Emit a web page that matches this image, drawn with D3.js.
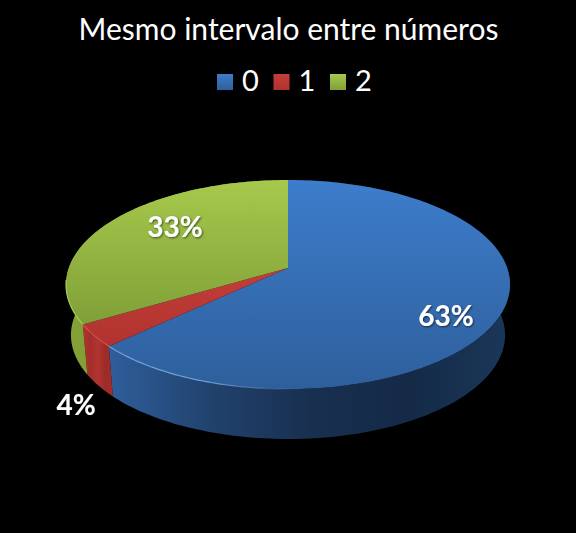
<!DOCTYPE html>
<html>
<head>
<meta charset="utf-8">
<script src="https://cdn.jsdelivr.net/npm/d3@7/dist/d3.min.js"></script>
<style>
  html, body { margin: 0; background: #000; }
  svg { display: block; }
  text { font-family: Lato, "Open Sans", sans-serif; fill: #fff; }
</style>
</head>
<body>
<svg id="chart" width="576" height="533"></svg>
<script>
const title = 'Mesmo intervalo entre números';
const categories = ['0', '1', '2'];
const values = [63, 3.5, 33.5];
const valueLabels = ['63%', '4%', '33%'];

const width = 576, height = 533;
const svg = d3.select('#chart').attr('viewBox', `0 0 ${width} ${height}`);
svg.append('rect').attr('width', width).attr('height', height).attr('fill', '#000');

// colours per category: top light, top dark, side stops, rim
const topLight = ['#3d7dcb', '#c43e3a', '#a6c94c'];
const topDark = ['#2e5f9c', '#b0322e', '#80a038'];
const rimColors = ['#6fa2dc', '#d0504c', '#a6cf4e'];
const sideStops = [
  ['#2f5e9b', '#21426d', '#182f50', '#142a47', '#1b3759'],
  ['#b23430', '#a32d2a', '#b23430', '#9c2b28', '#a32d2a'],
  ['#86a339', '#7d9a35', '#748f2f', '#6f8a2c', '#6a842a']
];

const defs = svg.append('defs');
categories.forEach((c, i) => {
  // bounding box gradient, so every slice runs light to dark over its own height
  const g = defs.append('linearGradient').attr('id', `top${i}`)
    .attr('x1', 0).attr('x2', 0).attr('y1', 0).attr('y2', 1);
  g.append('stop').attr('offset', 0).attr('stop-color', topLight[i]);
  g.append('stop').attr('offset', 1).attr('stop-color', topDark[i]);

  const s = defs.append('linearGradient').attr('id', `side${i}`);
  if (i === 0) s.attr('gradientUnits', 'userSpaceOnUse').attr('x1', 110).attr('x2', 510).attr('y1', 0).attr('y2', 0);
  sideStops[i].forEach((col, k) => {
    s.append('stop').attr('offset', k / 4).attr('stop-color', col);
  });

  const l = defs.append('linearGradient').attr('id', `swatch${i}`)
    .attr('x1', 0).attr('x2', 0).attr('y1', 0).attr('y2', 1);
  l.append('stop').attr('offset', 0).attr('stop-color', topLight[i]);
  l.append('stop').attr('offset', 1).attr('stop-color', topDark[i]);

  // rim highlight only shows on the front left, fades out towards the right
  const r = defs.append('linearGradient').attr('id', `rim${i}`)
    .attr('gradientUnits', 'userSpaceOnUse')
    .attr('x1', 66).attr('x2', 300).attr('y1', 0).attr('y2', 0);
  r.append('stop').attr('offset', 0).attr('stop-color', rimColors[i]);
  r.append('stop').attr('offset', 0.6).attr('stop-color', rimColors[i]);
  r.append('stop').attr('offset', 1).attr('stop-color', rimColors[i]).attr('stop-opacity', 0);
});

const blur = defs.append('filter').attr('id', 'shadow')
  .attr('x', '-20%').attr('y', '-20%').attr('width', '140%').attr('height', '140%');
blur.append('feDropShadow').attr('dx', 1).attr('dy', 1).attr('stdDeviation', 1)
  .attr('flood-color', '#000').attr('flood-opacity', 0.6);

// pie angles, then a small perspective projection of the disc
const pie = d3.pie().sort(null).value(d => d);
const arcs = pie(values);

const persp = 0.158;
const cx = 288;
const topDisc = { cy: 268, rx: 219.2, ry: 101.9 };
const lowDisc = { cy: 318.6, rx: 214.3, ry: 101.4 };

function project(angle, disc) {
  const u = Math.sin(angle), v = -Math.cos(angle);
  const w = 1 - persp * v;
  return [cx + disc.rx * u / w, disc.cy + disc.ry * v / w];
}

function sample(a0, a1) {
  const n = Math.max(2, Math.ceil((a1 - a0) / 0.02));
  return d3.range(n + 1).map(k => a0 + (a1 - a0) * k / n);
}

const line = d3.line();

// side walls first, the top covers whatever is behind it
svg.append('g').selectAll('path').data(arcs).join('path')
  .attr('d', d => {
    const a = sample(d.startAngle, d.endAngle);
    const pts = a.map(t => project(t, topDisc)).concat(a.slice().reverse().map(t => project(t, lowDisc)));
    return line(pts) + 'Z';
  })
  .attr('fill', (d, i) => `url(#side${i})`);

svg.append('g').selectAll('path').data(arcs).join('path')
  .attr('d', d => {
    const a = sample(d.startAngle, d.endAngle);
    return line([[cx, topDisc.cy]].concat(a.map(t => project(t, topDisc)))) + 'Z';
  })
  .attr('fill', (d, i) => `url(#top${i})`);

// thin light rim, front half of the disc only
svg.append('g').selectAll('path').data(arcs).join('path')
  .attr('d', d => line(sample(d.startAngle, d.endAngle)
    .filter(t => Math.cos(t) < -0.1)
    .map(t => project(t, topDisc))))
  .attr('fill', 'none')
  .attr('stroke', (d, i) => `url(#rim${i})`)
  .attr('stroke-width', 1.2);

// value labels
const labelAt = [[446, 316], [76, 405], [175, 227]];
svg.append('g').selectAll('text').data(valueLabels).join('text')
  .attr('x', (d, i) => labelAt[i][0])
  .attr('y', (d, i) => labelAt[i][1])
  .attr('dy', '0.35em')
  .attr('text-anchor', 'middle')
  .attr('font-size', 28)
  .attr('font-weight', 700)
  .attr('filter', 'url(#shadow)')
  .text(d => d);

// title
svg.append('text')
  .attr('x', 288.5)
  .attr('y', 40)
  .attr('text-anchor', 'middle')
  .attr('font-size', 30)
  .text(title);

// legend
const legendX = d3.scalePoint().domain(categories).range([217, 330]);
const legend = svg.append('g').selectAll('g').data(categories).join('g')
  .attr('transform', d => `translate(${legendX(d)},74)`);
legend.append('rect')
  .attr('width', 16).attr('height', 16)
  .attr('fill', (d, i) => `url(#swatch${i})`);
legend.append('text')
  .attr('x', 25).attr('y', 16.5)
  .attr('font-size', 29)
  .text(d => d);
</script>
</body>
</html>
